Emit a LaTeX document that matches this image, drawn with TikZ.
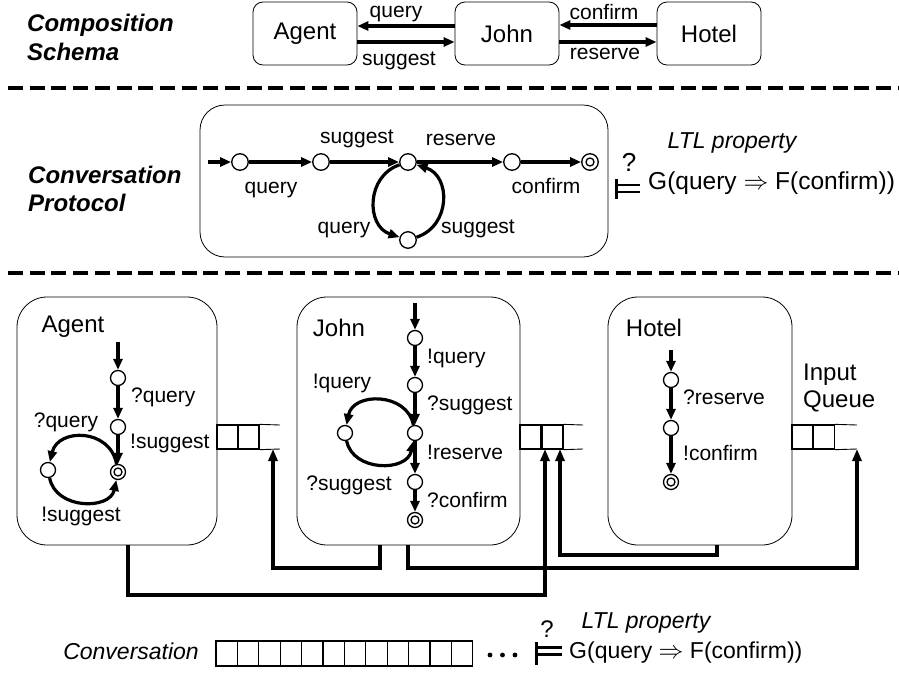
\documentclass[tikz,border=0pt]{standalone}
\usepackage{fontspec}
\setmainfont{Liberation Sans}
\usetikzlibrary{arrows.meta,calc}
\begin{document}
\begin{tikzpicture}[x=1pt,y=-1pt,
  lbl/.style={font=\fontsize{21}{25}\selectfont, inner sep=0pt},
  nm/.style={font=\fontsize{24}{28}\selectfont, inner sep=0pt},
  head/.style={font=\fontsize{24}{28.5}\selectfont\bfseries\itshape, align=left, anchor=west, inner sep=0pt},
  tbox/.style={draw, line width=0.8pt, rounded corners=10pt, minimum width=104pt, minimum height=63pt, inner sep=0pt, font=\fontsize{24}{28}\selectfont},
  bbox/.style={draw, line width=0.8pt, rounded corners=30pt, inner sep=0pt},
  stt/.style={circle, draw, line width=1.3pt, minimum size=15pt, inner sep=0pt, fill=white},
  fin/.style={stt, path picture={\draw[line width=1.3pt] (path picture bounding box.center) circle (4pt);}},
  bigstt/.style={stt, minimum size=16.5pt},
  bigfin/.style={fin, minimum size=16.5pt},
  trans/.style={draw, line width=3.2pt, -{Triangle[length=11pt,width=9pt]}},
  conn/.style={draw, line width=3.4pt, -{Triangle[length=12pt,width=9pt]}},
  sepline/.style={line width=4.5pt, dash pattern=on 15pt off 6.7pt},
  cell/.style={draw, line width=1.3pt, minimum width=21pt, minimum height=24pt, inner sep=0pt},
  ccell/.style={draw, line width=1.1pt, minimum width=21.4pt, minimum height=25pt, inner sep=0pt},
  ent/.style={line width=2.5pt}
]
\useasboundingbox (0,0) rectangle (899,672);

% ---------- Composition schema ----------
\node[head] (hcs) at (27,37.5) {Composition\\Schema};
\node[tbox] (tA) at (305,33.5) {Agent};
\node[tbox] (tJ) at (507,33.5) {John};
\node[tbox] (tH) at (709,33.5) {Hotel};
\path[trans] (tJ.west |- 0,26) -- (tA.east |- 0,26);
\path[trans] (tA.east |- 0,42) -- (tJ.west |- 0,42);
\path[trans] (tH.west |- 0,25) -- (tJ.east |- 0,25);
\path[trans] (tJ.east |- 0,42) -- (tH.west |- 0,42);
\node[lbl] (lq) at (396,14) {query};
\node[lbl] (ls) at (399,61) {suggest};
\node[lbl] (lc) at (604,12) {confirm};
\node[lbl] (lr) at (605,54) {reserve};

\draw[sepline] (8,88) -- (899,88);

% ---------- Conversation protocol ----------
\node[head] (hcp) at (28,189) {Conversation\\Protocol};
\node[bbox, rounded corners=25pt, minimum width=408pt, minimum height=152pt] (pbox) at (404,181) {};
\coordinate (pi) at (208,162);
\node[bigstt] (p0) at (240,162) {};
\node[bigstt] (p1) at (321,162) {};
\node[bigstt] (p2) at (408,162) {};
\node[bigstt] (p3) at (512,162) {};
\node[bigfin] (p4) at (590,162) {};
\node[bigstt] (p5) at (408,240) {};
\path[trans] (pi) -- (p0);
\path[trans] (p0) -- (p1);
\path[trans] (p1) -- (p2);
\path[trans] (p2) -- (p3);
\path[trans] (p3) -- (p4);
\path[trans] (p2) .. controls (366,176) and (366,226) .. (p5);
\path[trans] (p5) .. controls (451,226) and (451,176) .. (p2);
\node[lbl] at (271,190) {query};
\node[lbl] at (357,139) {suggest};
\node[lbl] at (461,140) {reserve};
\node[lbl] at (546,186) {confirm};
\node[lbl] at (344,230) {query};
\node[lbl] at (478,229) {suggest};

\node[font=\fontsize{26}{28}\selectfont, inner sep=0pt] (q1) at (629,162) {?};
\draw[line width=3pt] (616,179) -- (616,199);
\draw[ent] (616,185) -- (640,185);
\draw[ent] (616,192) -- (640,192);
\node[font=\fontsize{23}{27}\selectfont\itshape, inner sep=0pt] (ltl1) at (732,143) {LTL property};
\node[font=\fontsize{24.5}{28}\selectfont, anchor=west, inner sep=0pt] (g1) at (648,183) {G(query $\Rightarrow$ F(confirm))};

\draw[sepline] (8,273) -- (899,273);

% ---------- Peers ----------
\node[bbox, minimum width=200pt, minimum height=248pt] (bA) at (117,421) {};
\node[bbox, minimum width=223pt, minimum height=248pt] (bJ) at (408.5,421) {};
\node[bbox, minimum width=184pt, minimum height=248pt] (bH) at (700,421) {};
\node[nm] at (73,327) {Agent};
\node[nm] at (339,328) {John};
\node[nm] at (654,328) {Hotel};

% Agent automaton
\coordinate (ai) at (118,342);
\node[stt] (a0) at (118,378) {};
\node[stt] (a1) at (118,427) {};
\node[fin] (a2) at (118,472) {};
\node[stt] (aL) at (48,470) {};
\path[trans] (ai) -- (a0);
\path[trans] (a0) -- (a1);
\path[trans] (a1) -- (a2);
\path[trans] (a2) .. controls (110,428) and (58,428) .. (aL);
\path[trans] (aL) .. controls (56,510) and (110,510) .. (a2);
\node[lbl, anchor=west] at (131,397) {?query};
\node[lbl, anchor=west] at (130,443) {!suggest};
\node[lbl] at (66,422) {?query};
\node[lbl] at (81,516) {!suggest};

% John automaton
\coordinate (ji) at (415,303);
\node[stt] (j0) at (415,338) {};
\node[stt] (j1) at (415,385) {};
\node[stt] (j2) at (415,433) {};
\node[stt] (j3) at (415,482) {};
\node[fin] (j4) at (415,520) {};
\node[stt] (jL) at (345,433) {};
\path[trans] (ji) -- (j0);
\path[trans] (j0) -- (j1);
\path[trans] (j1) -- (j2);
\path[trans] (j2) -- (j3);
\path[trans] (j3) -- (j4);
\path[trans] (j2) .. controls (407,392) and (353,392) .. (jL);
\path[trans] (jL) .. controls (353,472) and (407,472) .. (j2);
\node[lbl, anchor=west] at (427,358) {!query};
\node[lbl, anchor=west] at (427,405) {?suggest};
\node[lbl, anchor=west] at (427,452) {!reserve};
\node[lbl, anchor=west] at (427,500) {?confirm};
\node[lbl] at (342,383) {!query};
\node[lbl] at (349,485) {?suggest};

% Hotel automaton
\coordinate (hi) at (671,350);
\node[stt] (h0) at (671,380) {};
\node[stt] (h1) at (671,428) {};
\node[fin] (h2) at (671,482) {};
\path[trans] (hi) -- (h0);
\path[trans] (h0) -- (h1);
\path[trans] (h1) -- (h2);
\node[lbl, anchor=west] at (683,397) {?reserve};
\node[lbl, anchor=west] at (683,453) {!confirm};

\node[font=\fontsize{24}{27}\selectfont, align=left, anchor=west, inner sep=0pt] (iq) at (803,388.5) {Input\\Queue};

% Queues
\node[cell] (qa1) at (227.5,437) {};
\node[cell] (qa2) at (248.5,437) {};
\draw[line width=0.9pt] (qa2.north east) -- (280,425);
\draw[line width=0.9pt] (qa2.south east) -- (280,449);
\node[cell] (qj1) at (530.5,437) {};
\node[cell] (qj2) at (552.5,437) {};
\draw[line width=0.9pt] (qj2.north east) -- (583,425);
\draw[line width=0.9pt] (qj2.south east) -- (583,449);
\node[cell] (qh1) at (802.5,437) {};
\node[cell] (qh2) at (824,437) {};
\draw[line width=0.9pt] (qh2.north east) -- (857,425);
\draw[line width=0.9pt] (qh2.south east) -- (857,449);

% Connectors
\coordinate (aout) at (128,545);
\coordinate (jout1) at (380,545);
\coordinate (jout2) at (408,545);
\coordinate (hout) at (717,545);
\coordinate (qain) at (273,449);
\coordinate (qjin1) at (545,449);
\coordinate (qjin2) at (560,449);
\coordinate (qhin) at (857,449);
\path[conn] (aout) -- (128,595) -- (545,595) -- (qjin1);
\path[conn] (jout1) -- (380,568) -- (273,568) -- (qain);
\path[conn] (jout2) -- (408,568) -- (857,568) -- (qhin);
\path[conn] (hout) -- (717,555) -- (560,555) -- (qjin2);

% ---------- Conversation ----------
\node[font=\fontsize{23}{27}\selectfont\itshape, anchor=east, inner sep=0pt] (conv) at (199,651) {Conversation};
\foreach \i in {0,...,11} {
  \node[ccell] (cv\i) at ({226.7+21.4*\i},653.5) {};
}
\foreach \x in {490,502.5,515} {
  \fill (\x,655) circle (2.4pt);
}
\node[font=\fontsize{24}{28}\selectfont, inner sep=0pt] (q2) at (547,629) {?};
\draw[line width=3pt] (536,642) -- (536,665);
\draw[ent] (536,647.5) -- (562,647.5);
\draw[ent] (536,654.5) -- (562,654.5);
\node[font=\fontsize{23}{27}\selectfont\itshape, inner sep=0pt] (ltl2) at (646,623) {LTL property};
\node[font=\fontsize{23}{27}\selectfont, anchor=west, inner sep=0pt] (g2) at (569,653) {G(query $\Rightarrow$ F(confirm))};
\end{tikzpicture}
\end{document}
